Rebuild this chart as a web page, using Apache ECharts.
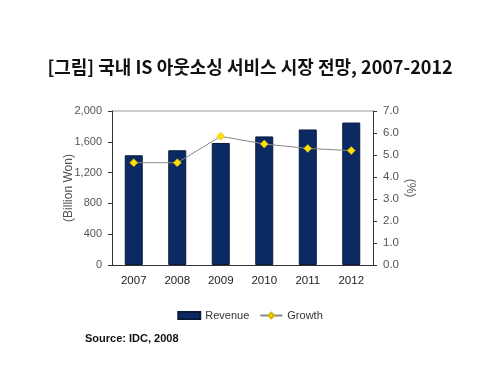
<!DOCTYPE html>
<html><head><meta charset="utf-8">
<script src="https://cdn.jsdelivr.net/npm/echarts@6/dist/echarts.min.js"></script>
<style>html,body{margin:0;padding:0;background:#fff}#c{width:500px;height:375px}</style>
</head><body><div id="c"></div>
<script>
var categories = ['2007','2008','2009','2010','2011','2012'];
var revenue = [1425, 1490, 1585, 1670, 1760, 1850];
var growth = [4.65, 4.65, 5.85, 5.5, 5.3, 5.2];
var leftTicks = [0, 400, 800, 1200, 1600, 2000];
var rightTicks = [0, 1, 2, 3, 4, 5, 6, 7];

var chart = echarts.init(document.getElementById('c'));
var lblColor = '#555';
chart.setOption({
  animation: false,
  backgroundColor: '#fff',
  title: {
    text: '[그림] 국내 IS 아웃소싱 서비스 시장 전망, 2007-2012',
    left: 'center', top: 53,
    textStyle: {fontFamily: 'Noto Sans CJK KR', fontSize: 18, fontWeight: 'bold', color: '#111'}
  },
  graphic: [{
    type: 'text', left: 85, top: 333,
    style: {text: 'Source: IDC, 2008', font: 'bold 11px "Liberation Sans", Arial', fill: '#111'}
  }, {
    type: 'line', shape: {x1: 112, y1: 111, x2: 373, y2: 111}, style: {stroke: '#999', lineWidth: 1}
  }],
  legend: {
    top: 305, left: 'center',
    itemGap: 10, itemWidth: 22, itemHeight: 7,
    textStyle: {fontFamily: 'Liberation Sans', fontSize: 11, color: '#333'},
    data: [
      {name: 'Revenue', icon: 'rect'},
      {name: 'Growth'}
    ]
  },
  grid: {left: 112, right: 127, top: 111, bottom: 110},
  xAxis: {
    type: 'category', data: categories,
    axisLine: {lineStyle: {color: '#333'}},
    axisTick: {show: false},
    axisLabel: {fontFamily: 'Liberation Sans', fontSize: 11.5, color: '#222', margin: 10}
  },
  yAxis: [{
    type: 'value', min: 0, max: 2000, interval: 400,
    name: '(Billion Won)', nameLocation: 'middle', nameGap: 37, nameRotate: 90, nameMoveOverlap: false,
    nameTextStyle: {fontFamily: 'Liberation Sans', fontSize: 12, color: lblColor},
    axisLine: {show: true, lineStyle: {color: '#333'}},
    axisTick: {show: true, inside: false, length: 4, lineStyle: {color: '#333'}},
    splitLine: {show: false},
    axisLabel: {fontFamily: 'Liberation Sans', fontSize: 11, color: lblColor, margin: 10,
      formatter: function(v){ return v.toLocaleString('en-US'); }}
  }, {
    type: 'value', min: 0, max: 7, interval: 1, position: 'right',
    name: '(%)', nameLocation: 'middle', nameGap: 31, nameRotate: -90, nameMoveOverlap: false,
    nameTextStyle: {fontFamily: 'Liberation Sans', fontSize: 12, color: lblColor},
    axisLine: {show: true, lineStyle: {color: '#333'}},
    axisTick: {show: true, length: 4, lineStyle: {color: '#333'}},
    splitLine: {show: false},
    axisLabel: {fontFamily: 'Liberation Sans', fontSize: 11.5, color: lblColor, margin: 10,
      formatter: function(v){ return v.toFixed(1); }}
  }],
  series: [{
    name: 'Revenue', type: 'bar', data: revenue, barWidth: 18,
    itemStyle: {color: '#0b2a63', borderColor: '#0a1a3a', borderWidth: 1}
  }, {
    name: 'Growth', type: 'line', yAxisIndex: 1, data: growth,
    symbol: 'diamond', symbolSize: 8,
    lineStyle: {color: '#888', width: 1},
    itemStyle: {color: '#ffe000', borderColor: '#d4b800', borderWidth: 0.5}
  }]
});
</script></body></html>
